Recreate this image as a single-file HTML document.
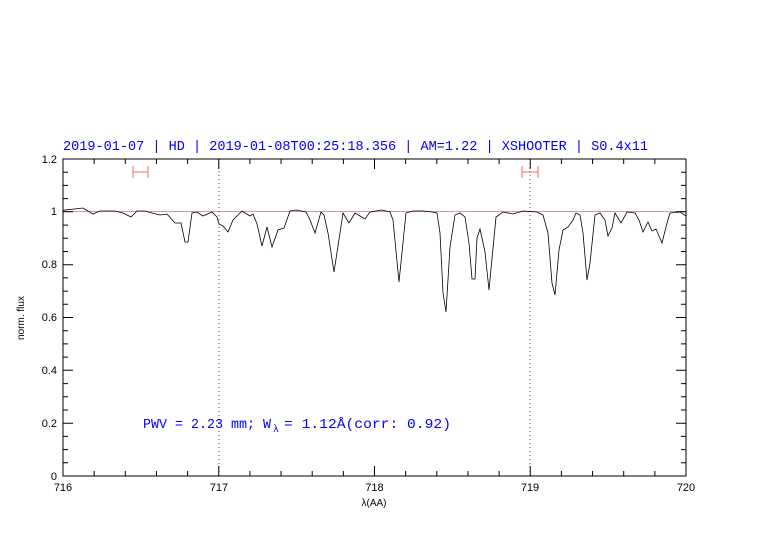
<!DOCTYPE html>
<html><head><meta charset="utf-8"><style>body{margin:0;background:#fff}svg{display:block}</style></head><body>
<svg width="782" height="542" xmlns="http://www.w3.org/2000/svg" font-family="Liberation Mono, monospace">
<rect width="782" height="542" fill="#fff"/>
<text x="63" y="150" fill="#0000ff" font-size="13.5" textLength="585" lengthAdjust="spacingAndGlyphs">2019-01-07 | HD | 2019-01-08T00:25:18.356 | AM=1.22 | XSHOOTER | S0.4x11</text>
<line x1="63" y1="211.5" x2="686" y2="211.5" stroke="#d99" stroke-width="1"/>
<line x1="219" y1="159" x2="219" y2="476" stroke="#444" stroke-dasharray="1,3" stroke-width="1"/>
<line x1="530" y1="159" x2="530" y2="476" stroke="#444" stroke-dasharray="1,3" stroke-width="1"/>
<g stroke="#f66" stroke-width="1"><line x1="133" y1="172" x2="148" y2="172"/><line x1="133" y1="166" x2="133" y2="178"/><line x1="148" y1="166" x2="148" y2="178"/>
<line x1="522" y1="172" x2="538" y2="172"/><line x1="522" y1="166" x2="522" y2="178"/><line x1="538" y1="166" x2="538" y2="178"/></g>
<polyline fill="none" stroke="#000" stroke-width="0.8" points="63,210.3 83,208 93,214 100,211 115,211 123,213 131,217 137,211 145,211 152,213 160,215 167,214 175,223 181,223 185,242 188,242 192,213 197,212 203,216 212,212 217,217 219,224 223,226 228,232 233,220 242,211 250,216 253,214 257,224 262,246 267,227 272,247 278,230 284,228 290,211 296,210 306,212 310,220 315,233 321,212 324,215 328,233 334,272 340,233 343,213 349,223 355,213 360,216 365,219 370,212 382,210 390,212 393,220 399,282 406,213 413,211 423,211 432,212 437,213 440,233 443,293 446,312 450,247 455,215 460,213 465,217 469,243 472,279 475,279 477,238 480,229 485,252 489,290 496,217 503,212 513,214 523,211 537,212 543,215 548,233 552,283 555,295 559,250 563,230 568,227 573,220 576,213 580,215 583,233 587,280 590,263 595,215 600,213 605,220 608,236 612,228 615,213 621,223 627,212 635,213 639,220 643,232 648,222 652,231 656,229 662,243 667,223 670,213 680,212 686,216"/>
<rect x="63" y="159" width="623" height="317" fill="none" stroke="#000" stroke-width="1"/>
<g stroke="#000" stroke-width="1">
<path d="M63,476v-10M94.15,476v-5M125.3,476v-5M156.45,476v-5M187.6,476v-5M218.75,476v-10M249.9,476v-5M281.05,476v-5M312.2,476v-5M343.35,476v-5M374.5,476v-10M405.65,476v-5M436.8,476v-5M467.95,476v-5M499.1,476v-5M530.25,476v-10M561.4,476v-5M592.55,476v-5M623.7,476v-5M654.85,476v-5M686,476v-10"/>
<path d="M63,159v10M94.15,159v5M125.3,159v5M156.45,159v5M187.6,159v5M218.75,159v10M249.9,159v5M281.05,159v5M312.2,159v5M343.35,159v5M374.5,159v10M405.65,159v5M436.8,159v5M467.95,159v5M499.1,159v5M530.25,159v10M561.4,159v5M592.55,159v5M623.7,159v5M654.85,159v5M686,159v10"/>
<path d="M63,476h10M63,462.8h5M63,449.6h5M63,436.4h5M63,423.2h10M63,410h5M63,396.8h5M63,383.6h5M63,370.3h10M63,357.1h5M63,343.9h5M63,330.7h5M63,317.5h10M63,304.3h5M63,291.1h5M63,277.9h5M63,264.7h10M63,251.5h5M63,238.3h5M63,225.1h5M63,211.8h10M63,198.6h5M63,185.4h5M63,172.2h5M63,159h10"/>
<path d="M686,476h-10M686,462.8h-5M686,449.6h-5M686,436.4h-5M686,423.2h-10M686,410h-5M686,396.8h-5M686,383.6h-5M686,370.3h-10M686,357.1h-5M686,343.9h-5M686,330.7h-5M686,317.5h-10M686,304.3h-5M686,291.1h-5M686,277.9h-5M686,264.7h-10M686,251.5h-5M686,238.3h-5M686,225.1h-5M686,211.8h-10M686,198.6h-5M686,185.4h-5M686,172.2h-5M686,159h-10"/>
</g>
<g font-size="11" fill="#000" text-anchor="middle" font-family="Liberation Sans, sans-serif">
<text x="63" y="491">716</text><text x="219" y="491">717</text><text x="374.5" y="491">718</text><text x="530" y="491">719</text><text x="686" y="491">720</text>
<text x="374" y="506" font-size="10">λ(AA)</text>
</g>
<g font-size="11" fill="#000" text-anchor="end" font-family="Liberation Sans, sans-serif">
<text x="57" y="480">0</text><text x="57" y="427">0.2</text><text x="57" y="374">0.4</text><text x="57" y="321">0.6</text><text x="57" y="268">0.8</text><text x="57" y="215">1</text><text x="57" y="163">1.2</text>
</g>
<text transform="translate(24,318) rotate(-90)" font-size="10" text-anchor="middle" font-family="Liberation Sans, sans-serif">norm. flux</text>
<text x="143" y="428" fill="#0000ff" font-size="13.5" textLength="128" lengthAdjust="spacingAndGlyphs">PWV = 2.23 mm; W</text>
<text x="273" y="432" fill="#0000ff" font-size="10">λ</text>
<text x="284" y="428" fill="#0000ff" font-size="13.5" textLength="167" lengthAdjust="spacingAndGlyphs">= 1.12Å(corr: 0.92)</text>
</svg>
</body></html>
